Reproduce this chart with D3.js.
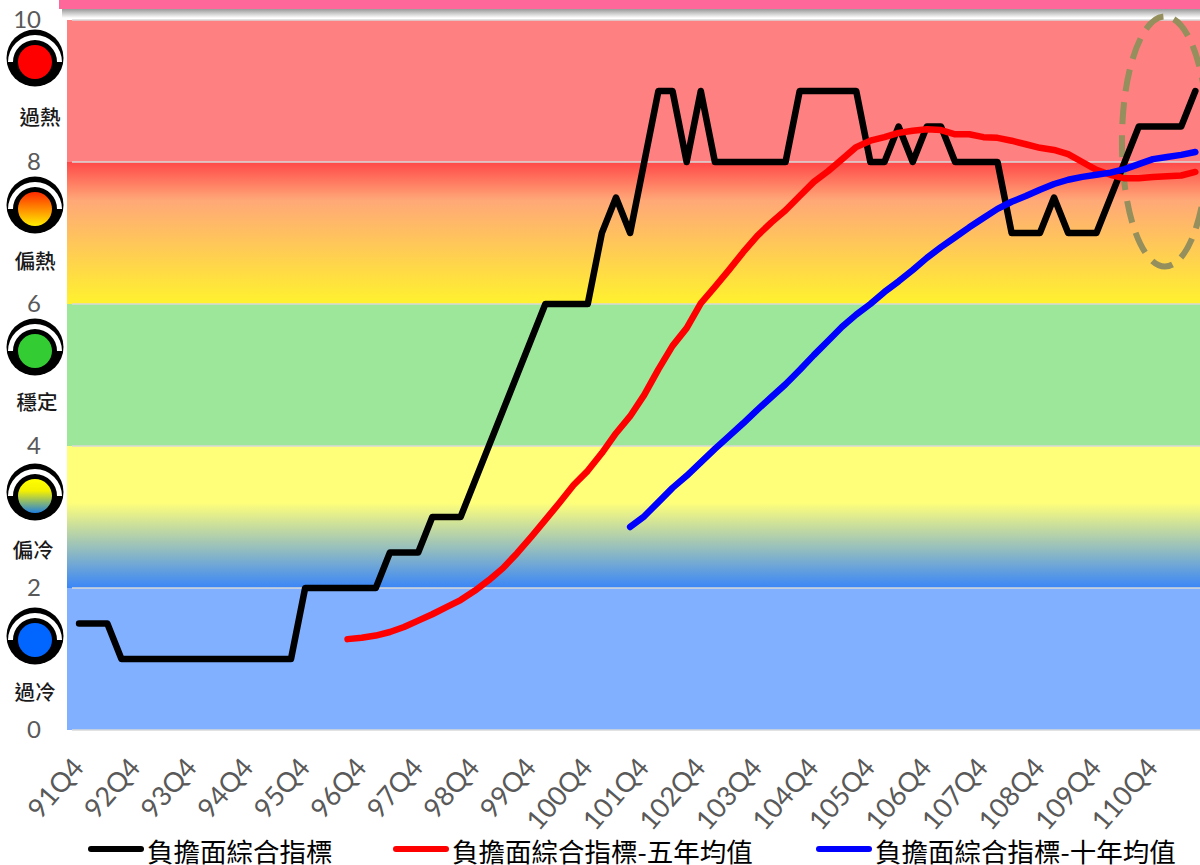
<!DOCTYPE html>
<html>
<head>
<meta charset="utf-8">
<script src="https://cdnjs.cloudflare.com/ajax/libs/d3/7.8.5/d3.min.js"></script>
<style>
  html, body { margin: 0; padding: 0; background: #fff; }
  svg { display: block; }
  .tick-label text { font-family: Lato, "Open Sans", sans-serif; font-size: 24px; fill: #595959; }
  .x-label text { font-size: 27px; }
  .zone-name { font-family: "Noto Sans CJK TC", sans-serif; font-size: 20.5px; font-weight: 500; fill: #1a1a1a; }
  .legend-text { font-family: "Noto Sans CJK TC", sans-serif; font-size: 26.5px; fill: #000; }
</style>
</head>
<body>
<div id="chart"></div>
<script>
// quarters run 91Q4 .. 111Q3
const years = d3.range(91, 112);
const quarters = years.flatMap(y => [1, 2, 3, 4].map(q => `${y}Q${q}`)).slice(3, 83);
const yearTicks = d3.range(91, 111).map(y => `${y}Q4`);
const yTicks = [0, 2, 4, 6, 8, 10];

const composite = [1.5, 1.5, 1.5, 1, 1, 1, 1, 1, 1, 1, 1, 1, 1, 1, 1, 1, 2, 2, 2, 2, 2, 2,
  2.5, 2.5, 2.5, 3, 3, 3, 3.5, 4, 4.5, 5, 5.5, 6, 6, 6, 6, 7, 7.5, 7, 8, 9, 9, 8, 9,
  8, 8, 8, 8, 8, 8, 9, 9, 9, 9, 9, 8, 8, 8.5, 8, 8.5, 8.5, 8, 8, 8, 8, 7, 7, 7, 7.5,
  7, 7, 7, 7.5, 8, 8.5, 8.5, 8.5, 8.5, 9];

// five year average starts at index 19
const avg5 = [1.28, 1.30, 1.33, 1.38, 1.45, 1.54, 1.63, 1.73, 1.83, 1.96, 2.11, 2.28, 2.49,
  2.72, 2.96, 3.20, 3.45, 3.65, 3.90, 4.18, 4.42, 4.72, 5.08, 5.41, 5.66, 6.01, 6.24, 6.48,
  6.73, 6.96, 7.15, 7.32, 7.52, 7.72, 7.87, 8.04, 8.21, 8.30, 8.35, 8.41, 8.44, 8.46, 8.45,
  8.39, 8.39, 8.35, 8.34, 8.30, 8.25, 8.20, 8.17, 8.11, 8.00, 7.89, 7.82, 7.77, 7.77, 7.79,
  7.80, 7.81, 7.86];

// ten year average starts at index 39
const avg10 = [2.86, 3.01, 3.21, 3.41, 3.58, 3.77, 3.96, 4.14, 4.32, 4.51, 4.69, 4.87, 5.07,
  5.28, 5.48, 5.68, 5.85, 6.00, 6.17, 6.32, 6.48, 6.65, 6.80, 6.94, 7.08, 7.21, 7.34, 7.44,
  7.52, 7.61, 7.69, 7.75, 7.79, 7.82, 7.85, 7.90, 7.97, 8.04, 8.07, 8.10, 8.14];

const seriesNames = ["負擔面綜合指標", "負擔面綜合指標-五年均值", "負擔面綜合指標-十年均值"];
const zoneNames = ["過冷", "偏冷", "穩定", "偏熱", "過熱"];

const width = 1200, height = 865;

const svg = d3.select("#chart").append("svg")
    .attr("width", width)
    .attr("height", height);

const x = d3.scaleBand().domain(quarters).range([72, 72 + 80 * 14.13]);
const y = d3.scaleLinear().domain([0, 10]).range([730, 20]);
const xc = d => x(d) + x.bandwidth() / 2;

const defs = svg.append("defs");

function gradient(id, stops) {
    const g = defs.append("linearGradient").attr("id", id)
        .attr("x1", 0).attr("y1", 0).attr("x2", 0).attr("y2", 1);
    stops.forEach(s => g.append("stop").attr("offset", s[0]).attr("stop-color", s[1]));
}
gradient("warm", [[0, "#ff4848"], [0.27, "#ffa878"], [1, "#fff22e"]]);
gradient("cool", [[0, "#ffff7a"], [0.4, "#ffff7a"], [1, "#3a86f8"]]);
gradient("lampWarm", [[0, "#ff2a00"], [1, "#ffee00"]]);
gradient("lampCool", [[0, "#ffff00"], [0.35, "#f4f000"], [1, "#1f7fe0"]]);
gradient("barShadow", [[0, "#9a9a9a"], [1, "#ffffff"]]);

// background zones, bottom to top
const zoneFills = ["#80b0ff", "url(#cool)", "#9de79b", "url(#warm)", "#ff8080"];
svg.append("g").selectAll("rect")
    .data(zoneFills)
    .join("rect")
    .attr("x", 67)
    .attr("width", width - 67)
    .attr("y", (d, i) => y(yTicks[i + 1]))
    .attr("height", (d, i) => y(yTicks[i]) - y(yTicks[i + 1]))
    .attr("fill", d => d);

// gridlines
svg.append("g").selectAll("line")
    .data(yTicks)
    .join("line")
    .attr("x1", 72)
    .attr("x2", width)
    .attr("y1", d => y(d))
    .attr("y2", d => y(d))
    .attr("stroke", "#d9d9d9")
    .attr("stroke-width", 1.5);

// pink bar on top
svg.append("rect").attr("x", 62).attr("y", 9).attr("width", width - 62).attr("height", 9)
    .attr("fill", "url(#barShadow)");
svg.append("rect").attr("x", 59).attr("y", 0).attr("width", width - 59).attr("height", 9)
    .attr("fill", "#ff6699");

// dashed ellipse around the last quarters
svg.append("ellipse")
    .attr("cx", xc("110Q4") + 12)
    .attr("cy", y(8.29))
    .attr("rx", 43)
    .attr("ry", 125)
    .attr("fill", "none")
    .attr("stroke", "#948f5c")
    .attr("stroke-width", 6)
    .attr("stroke-dasharray", "22 11");

const line = d3.line()
    .x(d => xc(d.q))
    .y(d => y(d.v));

const toPoints = (values, start) => values.map((v, i) => ({ q: quarters[start + i], v: v }));

const seriesList = [
    { values: toPoints(composite, 0), color: "#000" },
    { values: toPoints(avg5, 19), color: "#ff0000" },
    { values: toPoints(avg10, 39), color: "#0000ff" }
];

svg.append("g").selectAll("path")
    .data(seriesList)
    .join("path")
    .attr("d", d => line(d.values))
    .attr("fill", "none")
    .attr("stroke", d => d.color)
    .attr("stroke-width", 6.5)
    .attr("stroke-linecap", "round")
    .attr("stroke-linejoin", "round");

// axes
const xAxis = d3.axisBottom(x).tickValues(yearTicks).tickSize(0).tickPadding(0);
svg.append("g")
    .attr("class", "tick-label x-label")
    .attr("transform", "translate(0,756)")
    .call(xAxis)
    .call(g => g.select(".domain").remove())
    .selectAll("text")
    .attr("text-anchor", "end")
    .attr("dy", "0.7em")
    .attr("transform", "translate(-8,0) rotate(-49)");

const yAxis = d3.axisLeft(y).tickValues(yTicks).tickSize(0).tickPadding(0);
svg.append("g")
    .attr("class", "tick-label")
    .attr("transform", "translate(41,0)")
    .call(yAxis)
    .call(g => g.select(".domain").remove());

// traffic light icons, bottom to top
const lampFills = ["#0066ff", "url(#lampCool)", "#33cc33", "url(#lampWarm)", "#ff0000"];
const lampCy = [636, 492, 347, 205, 58];
const labelX = [35, 33, 37, 35, 40];
const labelY = [691, 549, 401, 260, 116];

const lamps = svg.append("g").selectAll("g")
    .data(zoneNames)
    .join("g")
    .attr("transform", (d, i) => `translate(35,${lampCy[i]})`);

lamps.append("circle").attr("r", 28.5).attr("fill", "#000");
lamps.append("path")
    .attr("transform", "translate(0,4)")
    .attr("d", d3.arc()
        .innerRadius(22)
        .outerRadius(27)
        .startAngle(-Math.PI / 2)
        .endAngle(Math.PI / 2)())
    .attr("fill", "#fff");
lamps.append("circle").attr("cy", 4).attr("r", 17).attr("fill", (d, i) => lampFills[i]);

svg.append("g").selectAll("text")
    .data(zoneNames)
    .join("text")
    .attr("class", "zone-name")
    .attr("x", (d, i) => labelX[i])
    .attr("y", (d, i) => labelY[i])
    .attr("text-anchor", "middle")
    .attr("dominant-baseline", "central")
    .text(d => d);

// legend
const legendX = [88, 393, 816];
const legend = svg.append("g").selectAll("g")
    .data(seriesList)
    .join("g")
    .attr("transform", (d, i) => `translate(${legendX[i]},849)`);

legend.append("line")
    .attr("x1", 3).attr("x2", 53)
    .attr("stroke", d => d.color)
    .attr("stroke-width", 6)
    .attr("stroke-linecap", "round");

legend.append("text")
    .attr("class", "legend-text")
    .attr("x", 59)
    .attr("y", 1)
    .attr("dominant-baseline", "central")
    .text((d, i) => seriesNames[i]);
</script>
</body>
</html>
